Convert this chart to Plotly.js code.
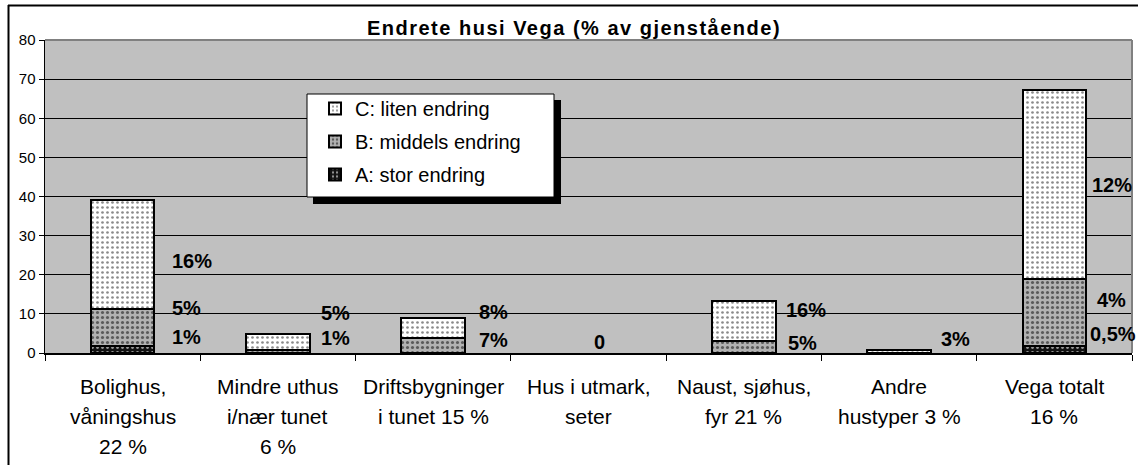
<!DOCTYPE html>
<html>
<head>
<meta charset="utf-8">
<script src="https://cdn.plot.ly/plotly-3.0.1.min.js"></script>
<style>html,body{margin:0;padding:0;background:#fff;}#chart{width:1138px;height:465px;}
#chart .gtitle{letter-spacing:1.5px;}</style>
</head>
<body>
<div id="chart"></div>
<script>
// ---- data ----
const categories = [
  "Bolighus,<br>våningshus<br>22 %",
  "Mindre uthus<br>i/nær tunet<br>6 %",
  "Driftsbygninger<br>i tunet 15 %",
  "Hus i utmark,<br>seter",
  "Naust, sjøhus,<br>fyr 21 %",
  "Andre<br>hustyper 3 %",
  "Vega totalt<br>16 %"
];
const seriesNames = ["A: stor endring", "B: middels endring", "C: liten endring"];
const valuesA = [1.9, 0, 0, 0, 0, 0, 1.9];
const valuesB = [9.3, 0.8, 3.9, 0, 3.0, 0, 16.9];
const valuesC = [27.8, 4.1, 5.1, 0, 10.2, 0.8, 48.3];
const yTicks = [0, 10, 20, 30, 40, 50, 60, 70, 80];

// value labels shown beside bars
const labelCat  = [0, 0, 0, 1, 1, 2, 2, 3, 4, 4, 5, 6, 6, 6];
const labelText = ["16%", "5%", "1%", "5%", "1%", "8%", "7%", "0", "16%", "5%", "3%", "12%", "4%", "0,5%"];
// label placement (positions, not data)
const labelY  = [23.4, 11.5, 4.2, 10.3, 3.8, 10.4, 3.3, 2.9, 11.0, 2.6, 3.5, 43.0, 13.6, 4.9];
const labelDx = [47, 47, 47, 41, 41, 44, 44, 3, 40, 42, 40, 36, 41, 34];

const titleText = "Endrete husi Vega (% av gjenstående)";

// ---- layout helpers ----
const W = 1138, H = 465, L = 45, R = 6, T = 40, B = 112;
const pw = W - L - R, ph = H - T - B;
const px = v => (v - L) / pw;
const py = v => (H - B - v) / ph;
const FONT = "Arial, Liberation Sans, sans-serif";

const styles = [
  {color: "#111111", fg: "#9a9a9a", size: 5, sol: 0.25},
  {color: "#b2b2b2", fg: "#5a5a5a", size: 5, sol: 0.3},
  {color: "#ffffff", fg: "#8a8a8a", size: 5, sol: 0.22}
];
const ranks = [3, 2, 1];
const vals = [valuesA, valuesB, valuesC];
const traces = vals.map((v, i) => ({
  type: "bar",
  name: seriesNames[i],
  x: categories.map((c, k) => k),
  y: v.map(d => (d === 0 ? null : d)),
  legendgroup: "g" + i,
  legendrank: ranks[i],
  marker: {
    color: styles[i].color,
    line: {color: "#000", width: 2},
    pattern: {shape: ".", fgcolor: styles[i].fg, bgcolor: styles[i].color, size: styles[i].size, solidity: styles[i].sol, fillmode: "replace"}
  },
  hoverinfo: "skip"
}));

const annotations = [];
labelText.forEach((t, i) => {
  annotations.push({
    x: labelCat[i], y: labelY[i], xref: "x", yref: "y",
    text: "<b>" + t + "</b>", showarrow: false,
    xanchor: "left", yanchor: "middle", xshift: labelDx[i],
    font: {family: FONT, size: 20, color: "#000"}
  });
});
const lineY = [386, 416, 446];
categories.forEach((c, k) => {
  c.split("<br>").forEach((ln, j) => {
    annotations.push({
      x: k, y: 0, xref: "x", yref: "paper",
      text: ln, showarrow: false,
      xanchor: "center", yanchor: "middle",
      yshift: -(lineY[j] - (H - B)),
      font: {family: FONT, size: 21, color: "#000"}
    });
  });
});

const shapes = [
  // outer chart border (top and left)
  {type: "line", xref: "paper", yref: "paper", x0: px(8), x1: px(1140), y0: py(5.5), y1: py(5.5), line: {color: "#000", width: 2}},
  {type: "line", xref: "paper", yref: "paper", x0: px(8.5), x1: px(8.5), y0: py(5), y1: py(470), line: {color: "#000", width: 2}},
  // plot area top/right border
  {type: "line", xref: "paper", yref: "paper", x0: 0, x1: 1, y0: 1, y1: 1, line: {color: "#808080", width: 2}, layer: "above"},
  {type: "line", xref: "paper", yref: "paper", x0: 1, x1: 1, y0: 0, y1: 1, line: {color: "#808080", width: 2}, layer: "above"},
  // legend shadow and box
  {type: "rect", xref: "paper", yref: "paper", x0: px(313), x1: px(561), y0: py(100), y1: py(204), fillcolor: "#000", line: {width: 0}, layer: "above"},
  {type: "rect", xref: "paper", yref: "paper", x0: px(307), x1: px(554), y0: py(94), y1: py(197), fillcolor: "#fff", line: {color: "#000", width: 1}, layer: "above"}
];

const layout = {
  width: W, height: H,
  margin: {l: L, r: R, t: T, b: B, pad: 0},
  paper_bgcolor: "#ffffff",
  plot_bgcolor: "#c0c0c0",
  barmode: "stack",
  bargap: 0.59,
  showlegend: true,
  title: {
    text: "<b>" + titleText + "</b>",
    x: 574 / W, xanchor: "center", xref: "container",
    y: 1 - 28 / H, yanchor: "middle", yref: "container",
    font: {family: FONT, size: 20, color: "#000"}
  },
  xaxis: {
    type: "linear", range: [-0.5, categories.length - 0.5],
    showticklabels: false, showgrid: false, zeroline: false,
    tickvals: categories.map((c, k) => k - 0.5).concat([categories.length - 0.5]),
    ticks: "outside", ticklen: 6, tickwidth: 1, tickcolor: "#000",
    showline: true, linecolor: "#000", linewidth: 2, fixedrange: true
  },
  yaxis: {
    range: [0, 80], tickvals: yTicks, ticktext: yTicks.map(String),
    ticks: "outside", ticklen: 5, tickwidth: 1, tickcolor: "#000",
    showgrid: true, gridcolor: "#000", gridwidth: 1,
    zeroline: false, showline: true, linecolor: "#000", linewidth: 1.5,
    tickfont: {family: FONT, size: 15, color: "#000"}, fixedrange: true
  },
  legend: {
    x: px(315), y: py(89), xanchor: "left", yanchor: "top",
    bgcolor: "rgba(0,0,0,0)", borderwidth: 0,
    traceorder: "grouped", tracegroupgap: 4,
    font: {family: FONT, size: 20, color: "#000"}
  },
  annotations: annotations,
  shapes: shapes
};

Plotly.newPlot("chart", traces, layout, {staticPlot: true, displayModeBar: false});
</script>
</body>
</html>
